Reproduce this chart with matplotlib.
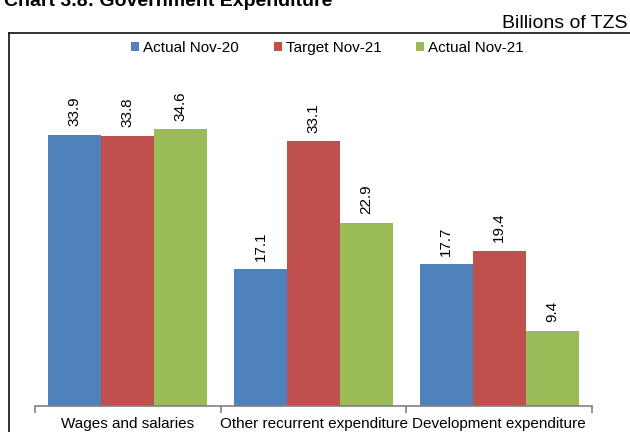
import numpy as np
import matplotlib
matplotlib.use("Agg")
import matplotlib.pyplot as plt
from matplotlib.lines import Line2D

plt.rcParams['font.family'] = ['Liberation Sans', 'DejaVu Sans']

categories = ["Wages and salaries", "Other recurrent expenditure", "Development expenditure"]
series_names = ["Actual Nov-20", "Target Nov-21", "Actual Nov-21"]
actual_nov20 = [33.9, 17.1, 17.7]
target_nov21 = [33.8, 33.1, 19.4]
actual_nov21 = [34.6, 22.9, 9.4]
colors = ["#4F81BD", "#C0504D", "#9BBB59"]

fig = plt.figure(figsize=(6.3, 4.32), dpi=100)
ax = fig.add_axes([35 / 630, 1 - 406 / 432, (592 - 35) / 630, (406 - 38) / 432])

x = np.arange(len(categories))
width = 0.286
for i, (name, vals) in enumerate(zip(series_names, [actual_nov20, target_nov21, actual_nov21])):
    pos = x + (i - 1) * width
    ax.bar(pos, vals, width, color=colors[i], label=name, edgecolor="none")
    for p, v in zip(pos, vals):
        ax.annotate(f"{v:.1f}", (p, v), xytext=(0, 6), textcoords="offset points",
                    rotation=90, ha="center", va="bottom", fontsize=11)

ax.set_xlim(-0.5, 2.5)
ax.set_ylim(0, 46)
ax.set_yticks([])
for s in ["top", "right", "left"]:
    ax.spines[s].set_visible(False)
ax.spines["bottom"].set_color("#808080")
ax.spines["bottom"].set_linewidth(1.2)

# category boundaries get the tick marks, names sit in between
ax.set_xticks([-0.5, 0.5, 1.5, 2.5])
ax.set_xticklabels([])
ax.set_xticks(x, minor=True)
ax.set_xticklabels(categories, minor=True, fontsize=11)
ax.tick_params(axis="x", which="major", length=5, color="#808080", width=1.2)
ax.tick_params(axis="x", which="minor", length=0, pad=8)

ax.legend(loc="upper center", bbox_to_anchor=(0.525, 1.03), ncol=3, frameon=False,
          fontsize=11, handlelength=0.52, handleheight=0.52, handletextpad=0.26,
          columnspacing=2.3)

# outer frame: left and top edges
fig.add_artist(Line2D([9 / 630, 9 / 630], [0, 1 - 33 / 432], color="#222222", lw=1.3))
fig.add_artist(Line2D([9 / 630, 1], [1 - 33 / 432, 1 - 33 / 432], color="#222222", lw=1.3))

fig.text(4 / 630, 1 - 6 / 432, "Chart 3.8: Government Expenditure", fontsize=14,
         fontweight="bold", ha="left", va="baseline")
fig.text(628 / 630, 1 - 28 / 432, "Billions of TZS", fontsize=14, ha="right", va="baseline")

fig.savefig("out.png", dpi=100)
